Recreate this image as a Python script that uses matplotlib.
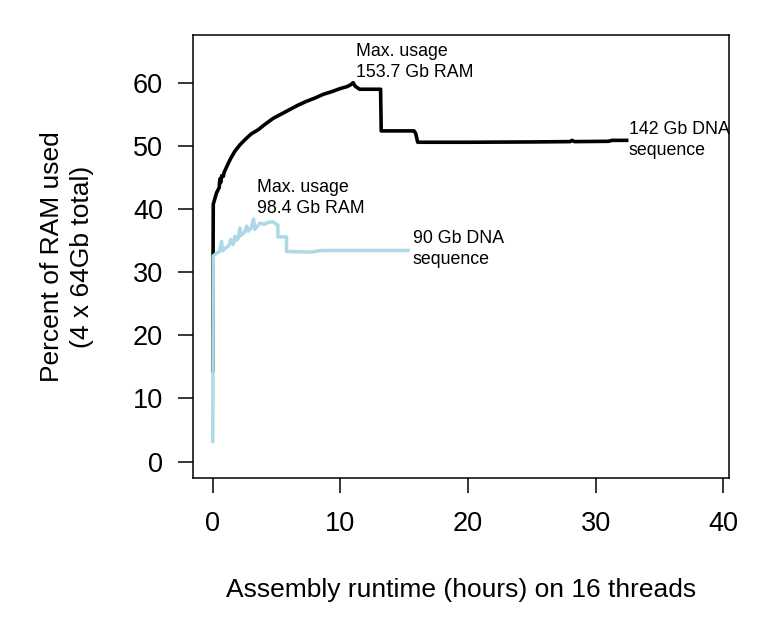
import matplotlib
matplotlib.use("Agg")
import matplotlib.pyplot as plt

plt.rcParams['font.family'] = ['Liberation Sans', 'DejaVu Sans']

# 142 Gb DNA assembly (black)
big_hours = [0.0, 0.02, 0.04, 0.3, 0.5, 0.56, 0.62, 0.7, 0.83, 0.9, 1.0, 1.22,
             1.45, 1.74, 2.13, 2.52, 3.0, 3.57, 4.0, 4.74, 5.4, 6.05, 6.7, 7.36,
             8.0, 8.66, 9.3, 9.97, 10.5, 10.8, 11.0, 11.15, 11.5, 13.15, 13.2,
             15.77, 15.9, 16.06, 20.0, 25.0, 28.0, 28.15, 28.35, 31.0, 31.3, 32.43]
big_pct = [14.4, 30.0, 40.8, 42.6, 43.4, 44.8, 44.2, 45.3, 45.2, 45.9, 46.3, 47.3,
           48.2, 49.2, 50.2, 51.0, 51.9, 52.6, 53.3, 54.4, 55.1, 55.8, 56.5, 57.1,
           57.6, 58.2, 58.6, 59.1, 59.4, 59.7, 60.04, 59.5, 59.0, 59.0, 52.4,
           52.4, 52.0, 50.6, 50.6, 50.65, 50.7, 50.9, 50.7, 50.75, 50.9, 50.9]

# 90 Gb DNA assembly (light blue)
small_hours = [0.0, 0.04, 0.3, 0.53, 0.69, 0.75, 0.83, 1.1, 1.3, 1.4, 1.6, 1.74,
               1.8, 2.0, 2.13, 2.2, 2.5, 2.66, 2.75, 3.0, 3.2, 3.3, 3.7, 4.0,
               4.35, 4.7, 5.0, 5.1, 5.1, 5.78, 5.78, 7.74, 8.5, 15.3]
small_pct = [3.2, 32.6, 33.0, 33.3, 34.9, 33.4, 33.5, 34.0, 34.3, 35.2, 34.4, 35.7,
             35.0, 35.4, 37.0, 35.8, 36.4, 37.3, 36.5, 37.0, 38.44, 36.8, 37.8, 37.6,
             37.9, 38.0, 37.6, 37.5, 35.6, 35.6, 33.3, 33.2, 33.45, 33.45]

x_ticks = [0, 10, 20, 30, 40]
y_ticks = [0, 10, 20, 30, 40, 50, 60]

fig = plt.figure(figsize=(7.78, 6.29), dpi=100)
ax = fig.add_axes([0.2487, 0.2401, 0.6883, 0.7043])

ax.plot(big_hours, big_pct, color='black', lw=2.6)
ax.plot(small_hours, small_pct, color='#add8e6', lw=2.5)

ax.text(11.2, 63.3, "Max. usage\n153.7 Gb RAM", fontsize=12.8, ha='left', va='center', linespacing=1.3)
ax.text(3.46, 41.7, "Max. usage\n98.4 Gb RAM", fontsize=12.8, ha='left', va='center', linespacing=1.3)
ax.text(32.6, 51.0, "142 Gb DNA\nsequence", fontsize=12.8, ha='left', va='center', linespacing=1.3)
ax.text(15.67, 33.7, "90 Gb DNA\nsequence", fontsize=12.8, ha='left', va='center', linespacing=1.3)

ax.set_xlim(-1.51, 40.45)
ax.set_ylim(-2.6, 67.6)
ax.set_xticks(x_ticks)
ax.set_yticks(y_ticks)
ax.tick_params(axis='both', direction='out', length=11, width=1.1, labelsize=19.5)
ax.tick_params(axis='x', pad=13)
ax.tick_params(axis='y', pad=11)
for s in ax.spines.values():
    s.set_linewidth(1.1)

fig.text(461 / 778, 1 - 590 / 629, "Assembly runtime (hours) on 16 threads",
         fontsize=19, ha='center', va='center')
fig.text(67 / 778, 1 - 256.5 / 629, "Percent of RAM used\n(4 x 64Gb total)",
         fontsize=19, ha='center', va='center', rotation=90, multialignment='center',
         linespacing=1.35)

fig.savefig("out.png", dpi=100)
